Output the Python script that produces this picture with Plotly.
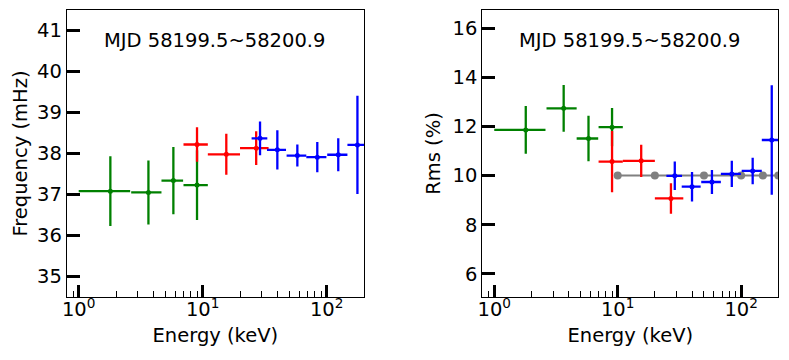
import plotly.graph_objects as go
from plotly.subplots import make_subplots

# energy bins (keV): centre and half width
energy_green = [1.8, 3.65, 5.8, 9.0]
energy_green_err = [0.8, 1.0, 1.15, 2.0]
energy_red = [9.0, 15.5, 27.0]
energy_red_err = [2.0, 4.5, 7.0]
energy_blue = [29.0, 40.0, 58.0, 84.0, 124.0, 177.0]
energy_blue_err = [4.2, 7.0, 10.5, 15.5, 23.0, 30.0]

# QPO frequency (mHz)
freq_green = [37.08, 37.05, 37.34, 37.23]
freq_green_err = [0.85, 0.78, 0.82, 0.85]
freq_red = [38.22, 37.98, 38.13]
freq_red_err = [0.42, 0.50, 0.41]
freq_blue = [38.37, 38.09, 37.95, 37.91, 37.97, 38.21]
freq_blue_err = [0.41, 0.48, 0.27, 0.37, 0.40, 1.20]

# fractional rms (%)
rms_green = [11.86, 12.74, 11.51, 11.97]
rms_green_err = [0.97, 0.95, 0.93, 0.78]
rms_red = [10.57, 10.60, 9.07]
rms_red_err = [1.25, 0.66, 0.62]
rms_blue = [9.99, 9.55, 9.74, 10.07, 10.19, 11.45]
rms_blue_err = [0.58, 0.60, 0.49, 0.53, 0.54, 2.23]

# reference level
ref_energy = [10, 20, 50, 100, 150, 200]
ref_rms = [10, 10, 10, 10, 10, 10]

major_x = [1, 10, 100]
major_x_text = ["10<sup>0</sup>", "10<sup>1</sup>", "10<sup>2</sup>"]
minor_x = [0.8, 0.9, 2, 3, 4, 5, 6, 7, 8, 9, 20, 30, 40, 50, 60, 70, 80, 90, 200]
freq_ticks = [35, 36, 37, 38, 39, 40, 41]
rms_ticks = [6, 8, 10, 12, 14, 16]

label = "MJD 58199.5~58200.9"
FONT = "DejaVu Sans"

# the page body has an 8px margin, so the figure is sized to the window minus that
OFF = 8
W, H = 789 - OFF, 360 - OFF


def px(x):
    return (x - OFF) / W


def py(y):
    return 1 - (y - OFF) / H


fig = make_subplots(rows=1, cols=2)


def add_set(col, x, xerr, y, yerr, color):
    fig.add_trace(go.Scatter(
        x=x, y=y, mode="markers",
        marker=dict(color=color, size=5),
        error_x=dict(type="data", array=xerr, color=color, thickness=2.3, width=0),
        error_y=dict(type="data", array=yerr, color=color, thickness=2.3, width=0),
        showlegend=False), row=1, col=col)


# left: frequency
add_set(1, energy_green, energy_green_err, freq_green, freq_green_err, "#008000")
add_set(1, energy_red, energy_red_err, freq_red, freq_red_err, "#ff0000")
add_set(1, energy_blue, energy_blue_err, freq_blue, freq_blue_err, "#0000ff")

# right: rms
fig.add_trace(go.Scatter(
    x=ref_energy, y=ref_rms, mode="lines+markers",
    line=dict(color="#808080", width=2), marker=dict(color="#808080", size=8),
    showlegend=False), row=1, col=2)
add_set(2, energy_green, energy_green_err, rms_green, rms_green_err, "#008000")
add_set(2, energy_red, energy_red_err, rms_red, rms_red_err, "#ff0000")
add_set(2, energy_blue, energy_blue_err, rms_blue, rms_blue_err, "#0000ff")

axis_common = dict(
    showline=True, linecolor="black", linewidth=1, mirror=True,
    ticks="inside", tickcolor="black", showgrid=False, zeroline=False,
    tickfont=dict(family=FONT, size=19.5, color="black"),
    title_font=dict(family=FONT, size=19.5, color="black"),
)

xaxis_common = dict(
    axis_common, type="log", range=[-0.0969, 2.301],
    tickmode="array", tickvals=major_x, ticktext=major_x_text,
    ticklen=12, tickwidth=3, ticklabelstandoff=-5,
    minor=dict(tickmode="array", tickvals=minor_x, ticks="inside",
               ticklen=6, tickwidth=1.3, tickcolor="black"),
    title_text="Energy (keV)", title_standoff=7,
)

ydom = [py(297), py(10)]
fig.update_xaxes(xaxis_common, domain=[px(66.7), px(364)], row=1, col=1)
fig.update_xaxes(xaxis_common, domain=[px(482.3), px(778.3)], row=1, col=2)

fig.update_yaxes(axis_common, domain=ydom,
                 range=[34.5, 41.5], tickmode="array", tickvals=freq_ticks,
                 ticklen=13, tickwidth=3, title_text="Frequency (mHz)",
                 title_standoff=4, row=1, col=1)
fig.update_yaxes(axis_common, domain=ydom,
                 range=[5.06, 16.74], tickmode="array", tickvals=rms_ticks,
                 ticklen=13, tickwidth=3, title_text="Rms (%)",
                 title_standoff=6, row=1, col=2)

for xpos in [101.7, 517.3]:
    fig.add_annotation(x=px(xpos), y=py(40.5), xref="paper", yref="paper",
                       text=label, showarrow=False, xanchor="left", yanchor="middle",
                       font=dict(family=FONT, size=19.5, color="black"))

fig.update_layout(
    width=W, height=H,
    margin=dict(l=0, r=0, t=0, b=0, autoexpand=False),
    paper_bgcolor="white", plot_bgcolor="white",
)

fig.write_html("out.html")
